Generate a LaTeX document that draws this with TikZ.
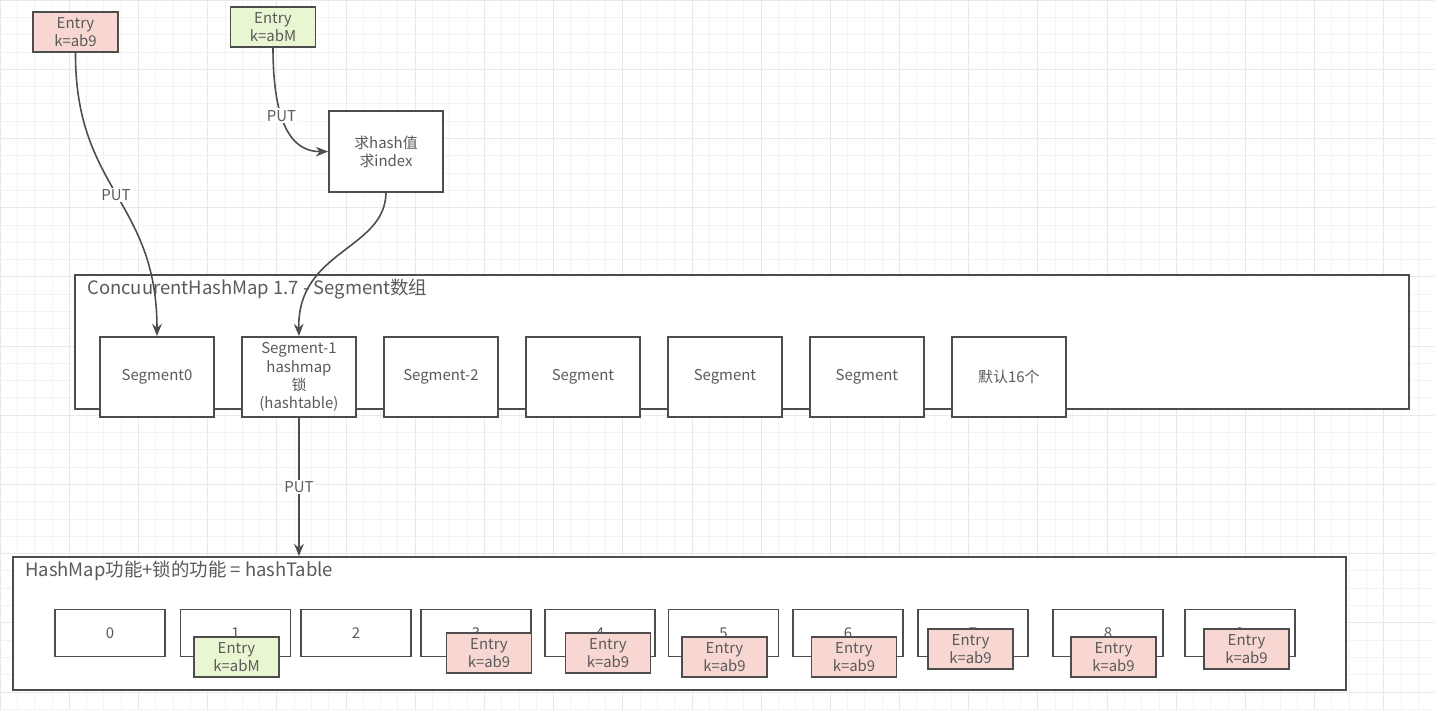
\documentclass[tikz,border=0pt]{standalone}
\usepackage{fontspec}
\setmainfont{Noto Sans CJK SC}
\usetikzlibrary{arrows.meta, positioning}
\definecolor{linegray}{HTML}{4D4D4D}
\definecolor{textgray}{HTML}{5A5A5A}
\definecolor{entrypink}{HTML}{F8D7D2}
\definecolor{entrygreen}{HTML}{E9F6D2}
\definecolor{gridminor}{HTML}{F3F3F3}
\definecolor{gridmajor}{HTML}{E8E8E8}
\tikzstyle{segbox} = [rectangle, minimum width=2.28cm, minimum height=1.6cm, align=center, draw=linegray, line width=1pt, fill=white, text=textgray, font=\fontsize{8.5}{10.3}\selectfont, inner sep=1pt]
\tikzstyle{bucket} = [rectangle, minimum width=2.2cm, minimum height=0.94cm, draw=linegray, line width=1pt, fill=white, text=textgray, font=\fontsize{8.5}{10}\selectfont]
\tikzstyle{entry} = [rectangle, minimum width=1.7cm, minimum height=0.8cm, align=center, draw=linegray, line width=1pt, text=textgray, font=\fontsize{8.5}{10}\selectfont, inner sep=1pt]
\tikzstyle{container} = [rectangle, draw=linegray, line width=1pt, fill=white]
\tikzstyle{title} = [anchor=west, text=textgray, font=\fontsize{10.5}{12}\selectfont, inner sep=0pt]
\tikzstyle{lbl} = [fill=white, text=textgray, font=\fontsize{8.5}{10}\selectfont, inner sep=1pt]
\tikzstyle{arrow} = [-{Stealth[length=7pt,width=5.5pt]}, draw=linegray, line width=0.9pt]

\begin{document}
\begin{tikzpicture}[x=0.02cm, y=-0.02cm, node distance=2.84cm]

    \useasboundingbox (0,0) rectangle (1434,710);
    \fill[white] (0,0) rectangle (1434,710);
    \draw[gridminor, step=0.346cm] (0,0) grid (1434,710);
    \draw[gridmajor, step=1.384cm] (0,0) grid (1434,710);

    % Segment array
    \node (segarr) [container, minimum width=26.68cm, minimum height=2.68cm] at (742, 342) {};
    \node (segtitle) [title] at (87, 289) {ConcuurentHashMap 1.7 - Segment数组};
    \node (seg0) [segbox] at (157, 377) {Segment0};
    \node (seg1) [segbox, right of=seg0] {Segment-1\\hashmap\\锁\\(hashtable)};
    \node (seg2) [segbox, right of=seg1] {Segment-2};
    \node (seg3) [segbox, right of=seg2] {Segment};
    \node (seg4) [segbox, right of=seg3] {Segment};
    \node (seg5) [segbox, right of=seg4] {Segment};
    \node (seg6) [segbox, right of=seg5] {默认16个};

    % hashTable
    \node (hashtbl) [container, minimum width=26.66cm, minimum height=2.66cm] at (679.5, 623.5) {};
    \node (tbltitle) [title] at (25, 571) {HashMap功能+锁的功能 = hashTable};
    \node (b0) [bucket] at (110, 633) {0};
    \node (b1) [bucket] at (235.5, 633) {1};
    \node (b2) [bucket] at (356, 633) {2};
    \node (b3) [bucket] at (476, 633) {3};
    \node (b4) [bucket] at (600, 633) {4};
    \node (b5) [bucket] at (723.5, 633) {5};
    \node (b6) [bucket] at (848, 633) {6};
    \node (b7) [bucket] at (973, 633) {7};
    \node (b8) [bucket] at (1108, 633) {8};
    \node (b9) [bucket] at (1240, 633) {9};

    \node (e1) [entry, fill=entrygreen] at (236.5, 657) {Entry\\k=abM};
    \node (e3) [entry, fill=entrypink] at (489, 653) {Entry\\k=ab9};
    \node (e4) [entry, fill=entrypink] at (608, 653) {Entry\\k=ab9};
    \node (e5) [entry, fill=entrypink] at (724.5, 657) {Entry\\k=ab9};
    \node (e6) [entry, fill=entrypink] at (854, 657) {Entry\\k=ab9};
    \node (e7) [entry, fill=entrypink] at (970.5, 649) {Entry\\k=ab9};
    \node (e8) [entry, fill=entrypink] at (1113.5, 657) {Entry\\k=ab9};
    \node (e9) [entry, fill=entrypink] at (1246.5, 649) {Entry\\k=ab9};

    % incoming entries
    \node (ab9) [entry, fill=entrypink] at (75.5, 32) {Entry\\k=ab9};
    \node (abM) [entry, fill=entrygreen] at (273, 27) {Entry\\k=abM};
    \node (hash) [segbox, minimum height=1.62cm] at (386, 151.5) {求hash值\\求index};

    \draw [arrow] (ab9.south) .. controls (75, 190) and (157, 200) .. node[lbl, pos=0.5] {PUT} (seg0.north);
    \draw [arrow] (abM.south) .. controls (273, 120) and (290, 152) .. node[lbl, pos=0.4] {PUT} (hash.west);
    \draw [arrow] (hash.south) .. controls (385, 250) and (297, 250) .. (seg1.north);
    \draw [arrow] (seg1.south) -- node[lbl] {PUT} (seg1.south |- hashtbl.north);

\end{tikzpicture}
\end{document}
